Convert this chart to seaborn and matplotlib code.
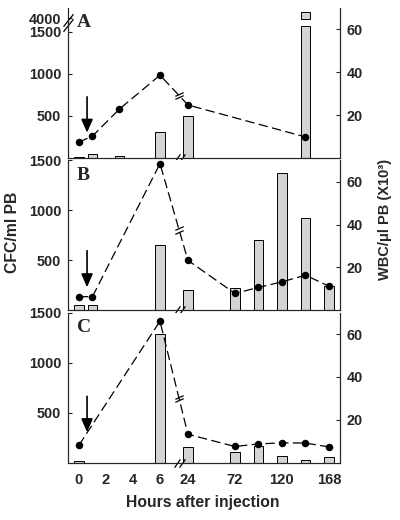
import numpy as np
import seaborn as sns
from matplotlib import pyplot as plt
from matplotlib.transforms import ScaledTranslation

# panel A
hours_a = [0, 1, 3, 6, 24, 144]
cfc_a = [15, 45, 28, 305, 500, 4600]
wbc_a = [7.4, 10.2, 22.8, 38.6, 24.7, 9.8]

# panel B
hours_b = [0, 1, 6, 24, 72, 96, 120, 144, 168]
cfc_b = [57, 53, 657, 200, 223, 707, 1370, 923, 240]
wbc_b = [6.4, 6.4, 68.4, 23.3, 7.9, 10.7, 13.3, 16.4, 11.3]

# panel C
hours_c = [0, 6, 24, 72, 96, 120, 144, 168]
cfc_c = [20, 1290, 153, 103, 170, 70, 30, 57]
wbc_c = [8.2, 66.0, 13.3, 7.6, 8.8, 9.3, 9.2, 7.4]

hour_ticks = [0, 2, 4, 6, 24, 72, 120, 168]
panels = ['A', 'B', 'C']

BAR = '#d4d4d4'
FONT = ['Liberation Sans', 'DejaVu Sans']


def xpos(h):
    # broken time axis: 0-6 h linear, then 24-168 h compressed
    h = np.asarray(h, dtype=float)
    return np.where(h <= 6, h, 8.07 + (h - 24) * 3.48 / 48)


def cfc_disp(v):
    # values above the y break (panel A) go on the short upper segment
    return v if v <= 1500 else 1663 + (v - 4000) * 0.12


def slashes(ax, x, y, trans, verts, ms, offsets):
    for dx, dy in offsets:
        off = ScaledTranslation(dx / 100, dy / 100, ax.figure.dpi_scale_trans)
        ax.plot([x], [y], marker=verts, ms=ms, mew=0.9, color='k',
                transform=trans + off, clip_on=False, zorder=6)


sns.set_style('ticks')
plt.rcParams['font.family'] = FONT
plt.rcParams['font.weight'] = 'bold'

fig, axes = plt.subplots(3, 1, figsize=(4, 5.2), dpi=100, sharex=True)
plt.subplots_adjust(left=0.17, right=0.85, top=0.985, bottom=0.11, hspace=0.015)

data = [(hours_a, cfc_a, wbc_a), (hours_b, cfc_b, wbc_b), (hours_c, cfc_c, wbc_c)]
arrows = [(28.5, 11.8), (27.8, 10.8), (31.0, 14.3)]

for i, (ax, (hrs, cfc, wbc)) in enumerate(zip(axes, data)):
    xs = xpos(hrs)
    for x, v in zip(xs, cfc):
        if v > 1500:
            ax.bar(x, 1571, width=0.72, color=BAR, edgecolor='k', linewidth=0.7, zorder=2)
            ax.bar(x, cfc_disp(v) - 1651, bottom=1651, width=0.72, color=BAR,
                   edgecolor='k', linewidth=0.7, zorder=2)
        else:
            ax.bar(x, v, width=0.72, color=BAR, edgecolor='k', linewidth=0.7, zorder=2)

    if i == 0:
        ax.set_ylim(0, 1786)
        ax.set_yticks([500, 1000, 1500, cfc_disp(4000)])
        ax.set_yticklabels(['500', '1000', '1500', '4000'])
        slashes(ax, 0, 0.9, ax.transAxes, [(-0.8, -1), (0.8, 1)], 9, [(0, -2.5), (0, 2.5)])
    else:
        ax.set_ylim(0, 1500)
        ax.set_yticks([500, 1000, 1500])
    ax.set_xlim(-0.81, 19.33)

    tw = ax.twinx()
    sns.lineplot(x=xs, y=wbc, ax=tw, color='k', marker='o', ms=5.4, mec='k', mew=0,
                 linestyle=(0, (7.5, 3.5)), lw=0.9, zorder=4)
    tw.set_ylim(0, 70)
    tw.set_yticks([20, 40, 60])

    # break marks on x axis and on the line
    xb = float(xpos(15))
    slashes(ax, xb, 0, ax.get_xaxis_transform(), [(-0.7, -1), (0.7, 1)], 6,
            [(-2.5, 0), (2.5, 0)])
    yb = np.interp(xb, xs, wbc)
    slashes(tw, xb, yb, tw.transData, [(-1, -0.45), (1, 0.45)], 6,
            [(0, -1.6), (0, 1.6)])

    tw.annotate('', xy=(0.6, arrows[i][1]), xytext=(0.6, arrows[i][0]),
                arrowprops=dict(arrowstyle='-|>,head_width=0.35,head_length=0.8',
                                color='k', lw=1.2, shrinkA=0, shrinkB=0))

    ax.text(0.033, 0.9, panels[i], transform=ax.transAxes, ha='left', va='center',
            fontsize=14, fontweight='bold', family=['Liberation Serif', 'DejaVu Serif'])

    for a in (ax, tw):
        a.spines['top'].set_visible(False)
        a.set_xlabel('')
        a.set_ylabel('')
    ax.tick_params(axis='y', direction='in', length=3, pad=5, labelsize=10.4)
    tw.tick_params(axis='y', direction='in', length=3, pad=5, labelsize=10.4)
    ax.tick_params(axis='x', length=0, pad=7, labelsize=10.6)

axes[2].set_xticks(xpos(hour_ticks))
axes[2].set_xticklabels([str(h) for h in hour_ticks])

fig.text(203 / 400, 1 - 503 / 520, 'Hours after injection', ha='center', va='center',
         fontsize=11.3, fontweight='bold')
fig.text(12.5 / 400, 1 - 232 / 520, 'CFC/ml PB', ha='center', va='center',
         rotation=90, fontsize=11.3, fontweight='bold')
fig.text(385 / 400, 1 - 219 / 520, 'WBC/\u03bcl PB (X10\u00b3)', ha='center', va='center',
         rotation=90, fontsize=10.5, fontweight='bold')

plt.savefig('out.png', dpi=100)
